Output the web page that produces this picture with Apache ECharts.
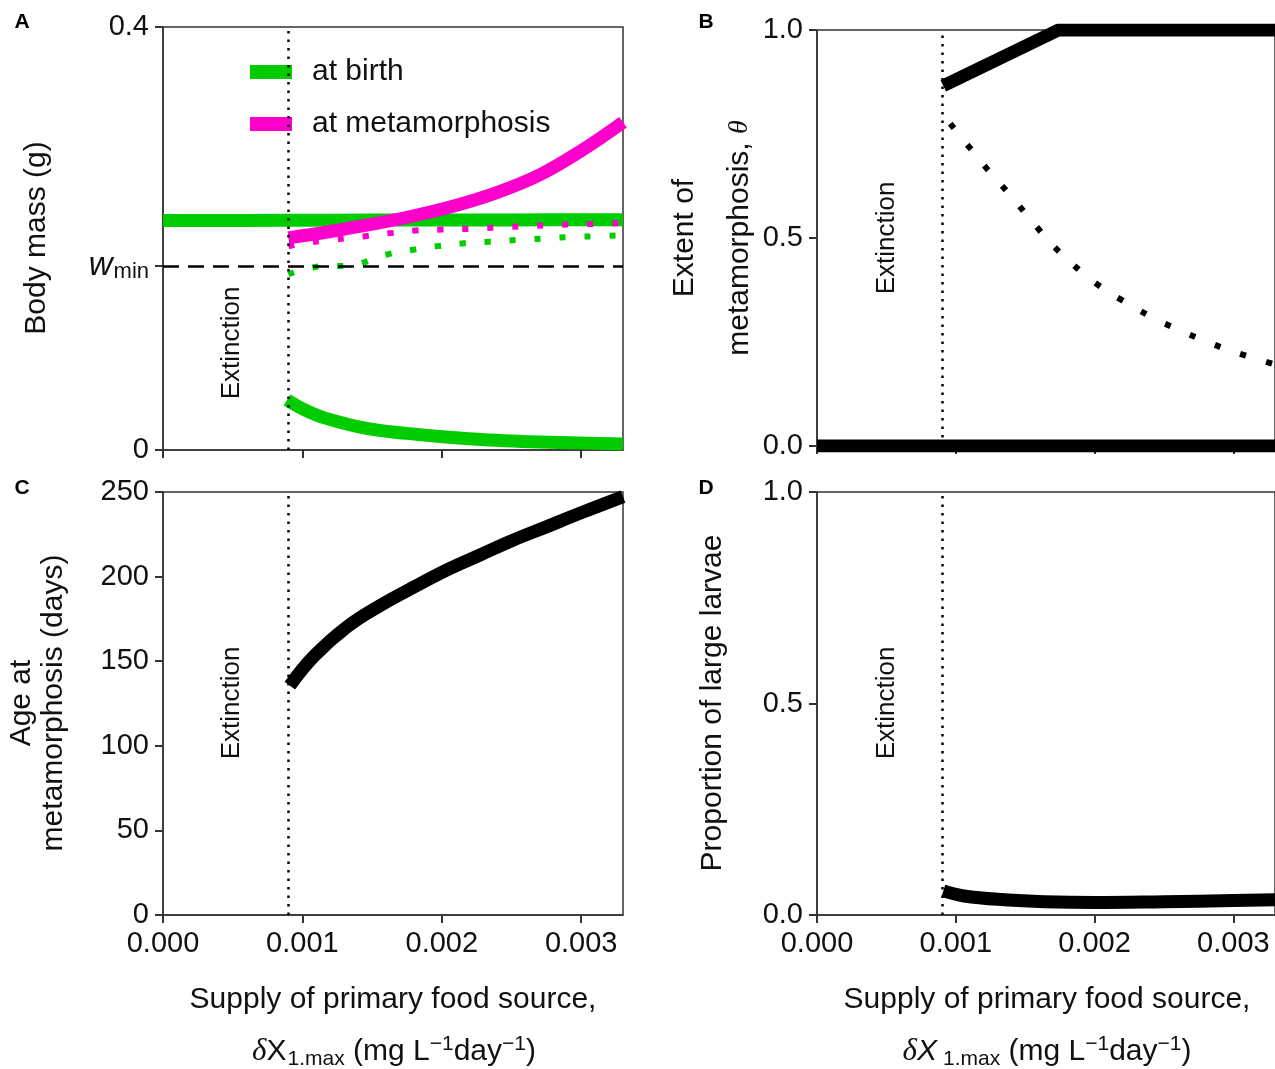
<!DOCTYPE html>
<html><head><meta charset="utf-8">
<script src="https://cdn.jsdelivr.net/npm/echarts@6/dist/echarts.min.js"></script>
<style>html,body{margin:0;padding:0;background:#fff}#c{width:1275px;height:1069px}</style>
</head><body><div id="c"></div><script>
// ---------- data ----------
const xTickValues = [0, 0.001, 0.002, 0.003];
const extinctionX = [0.0009];
const wMin = [0.174];
const yTicksA = [0, 0.174, 0.4];
const yTicksB = [0, 0.5, 1];
const yTicksD = [0, 0.5, 1];

// Panel A: body mass
const birthUpperX = [0, 0.0009, 0.0015, 0.002, 0.0025, 0.0033];
const birthUpperY = [0.2170, 0.2172, 0.2174, 0.2175, 0.2176, 0.2178];
const birthLowerX = [0.00089, 0.00102, 0.00117, 0.00146, 0.00175, 0.00205, 0.00234, 0.00263, 0.00292, 0.0033];
const birthLowerY = [0.0472, 0.0377, 0.0299, 0.0204, 0.0157, 0.0120, 0.0094, 0.0079, 0.0069, 0.0057];
const metaX = [0.0009, 0.0012, 0.0015, 0.0018, 0.0021, 0.0024, 0.0027, 0.003, 0.0033];
const metaY = [0.2006, 0.2066, 0.2135, 0.2215, 0.2312, 0.2436, 0.2600, 0.2830, 0.3100];
const birthDotX = [0.0009, 0.00098, 0.00116, 0.00134, 0.00143, 0.00161, 0.00179, 0.00197, 0.00216, 0.00234, 0.00253, 0.00271, 0.00289, 0.00307, 0.0033];
const birthDotY = [0.166, 0.1698, 0.1739, 0.1742, 0.177, 0.1849, 0.1893, 0.1928, 0.1955, 0.197, 0.1985, 0.1998, 0.2012, 0.202, 0.203];
const metaDotX = [0.0009, 0.00098, 0.00116, 0.00134, 0.00145, 0.00164, 0.00181, 0.002, 0.00219, 0.00237, 0.00255, 0.00274, 0.00292, 0.00311, 0.0033];
const metaDotY = [0.1925, 0.195, 0.198, 0.2006, 0.2022, 0.2053, 0.2075, 0.2085, 0.2091, 0.2101, 0.2113, 0.2123, 0.2132, 0.2138, 0.2145];

// Panel B: extent of metamorphosis
const thetaUpperX = [0.00091, 0.00174, 0.0033];
const thetaUpperY = [0.866, 1.0, 1.0];
const thetaZeroX = [0, 0.0033];
const thetaZeroY = [0, 0];
const thetaDotX = [0.00096, 0.0011, 0.0012, 0.0013, 0.0014, 0.0015, 0.0016, 0.0017, 0.0018, 0.0019, 0.002, 0.0022, 0.0024, 0.0026, 0.0028, 0.003, 0.0033];
const thetaDotY = [0.775, 0.717, 0.676, 0.638, 0.600, 0.560, 0.520, 0.482, 0.450, 0.420, 0.393, 0.350, 0.312, 0.280, 0.252, 0.227, 0.196];

// Panel C: age at metamorphosis
const ageX = [0.00091, 0.00108, 0.00132, 0.00156, 0.0018, 0.00203, 0.00227, 0.00251, 0.00275, 0.00299, 0.0033];
const ageY = [135.6, 152.7, 170.3, 183, 193.8, 203.7, 212.6, 221.5, 229.4, 237.4, 247.3];

// Panel D: proportion of large larvae
const propX = [0.00091, 0.00106, 0.00135, 0.00164, 0.002, 0.0025, 0.003, 0.0033];
const propY = [0.057, 0.045, 0.036, 0.0315, 0.0297, 0.0315, 0.034, 0.036];

// ---------- helpers ----------
const FONT = "'Liberation Sans', Arial, Helvetica, sans-serif";
const SERIF = "'Liberation Serif', 'DejaVu Serif', serif";
const GREEN = '#00cc00', MAGENTA = '#ff00cc', BLACK = '#000';
const pairs = (xs, ys) => xs.map((x, i) => [x, ys[i]]);

const grids = [
  {left: 163, top: 27, width: 460, height: 423},
  {left: 817, top: 30, width: 460, height: 416},
  {left: 163, top: 492, width: 460, height: 423},
  {left: 817, top: 492, width: 460, height: 423}
].map(g => Object.assign(g, {show: true, borderColor: '#333', borderWidth: 1.5, backgroundColor: 'transparent', containLabel: false}));

function xAxis(idx, showLabels) {
  return {
    type: 'value', gridIndex: idx, min: 0, max: 0.0033,
    splitLine: {show: false},
    axisLine: {lineStyle: {color: '#333', width: 1.5}},
    axisTick: {show: true, length: 8, lineStyle: {color: '#333', width: 2}, customValues: xTickValues},
    axisLabel: {show: showLabels, customValues: xTickValues, fontSize: 29, color: '#111', fontFamily: FONT, margin: 14,
      formatter: v => v.toFixed(3)}
  };
}
function yAxis(idx, min, max, ticks, fmt, rich) {
  return {
    type: 'value', gridIndex: idx, min: min, max: max,
    splitLine: {show: false},
    axisLine: {lineStyle: {color: '#333', width: 1.5}},
    axisTick: {show: true, length: 8, lineStyle: {color: '#333', width: 2}, customValues: ticks},
    axisLabel: {customValues: ticks, fontSize: 29, color: '#111', fontFamily: FONT, margin: 14, formatter: fmt, rich: rich}
  };
}

const extStyle = {color: BLACK, type: [2.5, 6], width: 2.5, cap: 'butt'};
const extinctionMark = {
  silent: true, symbol: 'none', precision: 10, label: {show: false},
  lineStyle: extStyle,
  data: [{xAxis: extinctionX[0]}]
};

function line(name, xi, yi, xs, ys, color, width, opts) {
  return Object.assign({
    type: 'line', name: name, xAxisIndex: xi, yAxisIndex: yi,
    data: pairs(xs, ys), showSymbol: false, symbol: 'none',
    smooth: 0.4, color: color,
    lineStyle: {color: color, width: width, cap: 'butt', join: 'round'},
    emphasis: {disabled: true}, silent: true, z: 3
  }, opts || {});
}
const dotted = (c, gap) => ({color: c, width: 6, type: [6, gap], cap: 'butt'});

const series = [
  // Panel A
  line('at birth', 0, 0, birthUpperX, birthUpperY, GREEN, 13, {
    markLine: {
      silent: true, symbol: 'none', precision: 10, label: {show: false},
      data: [
        {xAxis: extinctionX[0], lineStyle: extStyle},
        {yAxis: wMin[0], lineStyle: {color: BLACK, type: [16, 9], width: 2.5}}
      ]
    }
  }),
  line('birth-lower', 0, 0, birthLowerX, birthLowerY, GREEN, 13),
  line('birth-dotted', 0, 0, birthDotX, birthDotY, GREEN, 6, {lineStyle: dotted(GREEN, 19)}),
  line('meta-dotted', 0, 0, metaDotX, metaDotY, MAGENTA, 6, {lineStyle: dotted(MAGENTA, 19)}),
  line('at metamorphosis', 0, 0, metaX, metaY, MAGENTA, 13),
  // Panel B
  line('theta-dotted', 1, 1, thetaDotX, thetaDotY, BLACK, 6, {lineStyle: dotted(BLACK, 21)}),
  line('theta-upper', 1, 1, thetaUpperX, thetaUpperY, BLACK, 13, {smooth: false, markLine: extinctionMark}),
  line('theta-zero', 1, 1, thetaZeroX, thetaZeroY, BLACK, 13, {smooth: false}),
  // Panel C
  line('age', 2, 2, ageX, ageY, BLACK, 13, {markLine: extinctionMark}),
  // Panel D
  line('prop', 3, 3, propX, propY, BLACK, 13, {markLine: extinctionMark})
];

function txt(x, y, text, size, opts) {
  return Object.assign({
    type: 'text', x: x, y: y, silent: true,
    style: Object.assign({text: text, fontSize: size, fontFamily: FONT, fill: '#111', align: 'center', verticalAlign: 'middle'}, (opts && opts.style) || {})
  }, opts ? {rotation: opts.rotation || 0} : {});
}
const R = Math.PI / 2;
const xTitleRich = (italicX) => ({
  n: {fontSize: 30, fontFamily: FONT, fill: '#111'},
  d: {fontSize: 31, fontFamily: SERIF, fontStyle: 'italic', fill: '#111'},
  x: {fontSize: 30, fontFamily: FONT, fontStyle: italicX ? 'italic' : 'normal', fill: '#111'},
  s: {fontSize: 21, fontFamily: FONT, fill: '#111', padding: [14, 0, 0, italicX ? 6 : 1]},
  p: {fontSize: 21, fontFamily: FONT, fill: '#111', padding: [0, 0, 16, 0]}
});
const bold = {style: {fontWeight: 'bold', fill: '#000'}};
const graphics = [
  txt(22, 22, 'A', 21, bold),
  txt(706, 22, 'B', 21, bold),
  txt(22, 488, 'C', 21, bold),
  txt(706, 488, 'D', 21, bold),
  txt(37, 238, 'Body mass (g)', 30, {rotation: R}),
  txt(712, 238, 'Extent of\nmetamorphosis, {t|θ}', 30, {rotation: R, style: {lineHeight: 55,
    rich: {t: {fontSize: 28, fontFamily: SERIF, fontStyle: 'italic', fill: '#111', lineHeight: 55}}}}),
  txt(38, 703, 'Age at\nmetamorphosis (days)', 30, {rotation: R, style: {lineHeight: 32}}),
  txt(713, 703, 'Proportion of large larvae', 30, {rotation: R}),
  txt(232, 343, 'Extinction', 26, {rotation: R}),
  txt(887, 238, 'Extinction', 26, {rotation: R}),
  txt(232, 703, 'Extinction', 26, {rotation: R}),
  txt(887, 703, 'Extinction', 26, {rotation: R}),
  txt(393, 1000, 'Supply of primary food source,', 30),
  txt(1047, 1000, 'Supply of primary food source,', 30),
  txt(394, 1052, '{d|δ}{x|X}{s|1.max}{n| (mg L}{p|−1}{n|day}{p|−1}{n|)}', 30, {style: {rich: xTitleRich(false)}}),
  txt(1047, 1052, '{d|δ}{x|X}{s|1.max}{n| (mg L}{p|−1}{n|day}{p|−1}{n|)}', 30, {style: {rich: xTitleRich(true)}})
];

const chart = echarts.init(document.getElementById('c'), null, {renderer: 'canvas'});
chart.setOption({
  animation: false,
  backgroundColor: '#fff',
  textStyle: {fontFamily: FONT},
  grid: grids,
  xAxis: [xAxis(0, false), xAxis(1, false), xAxis(2, true), xAxis(3, true)],
  yAxis: [
    yAxis(0, 0, 0.4, yTicksA, v => (Math.abs(v - wMin[0]) < 1e-9 ? '{w|w}{s|min}' : (v === 0 ? '0' : v.toFixed(1))),
      {w: {fontSize: 33, fontStyle: 'italic', fontFamily: FONT, color: '#111'},
       s: {fontSize: 22, fontFamily: FONT, color: '#111', padding: [12, 0, 0, 1]}}),
    yAxis(1, 0, 1, yTicksB, v => v.toFixed(1)),
    Object.assign(yAxis(2, 0, 250, null, v => String(v)), {interval: 50}),
    yAxis(3, 0, 1, yTicksD, v => v.toFixed(1))
  ],
  legend: {
    left: 245, top: 52, orient: 'vertical', itemWidth: 42, itemHeight: 14, itemGap: 22,
    selectedMode: false,
    textStyle: {fontSize: 30, color: '#111', fontFamily: FONT, padding: [0, 0, 0, 15]},
    data: [{name: 'at birth', icon: 'rect'}, {name: 'at metamorphosis', icon: 'rect'}]
  },
  graphic: graphics,
  series: series
});
</script></body></html>
